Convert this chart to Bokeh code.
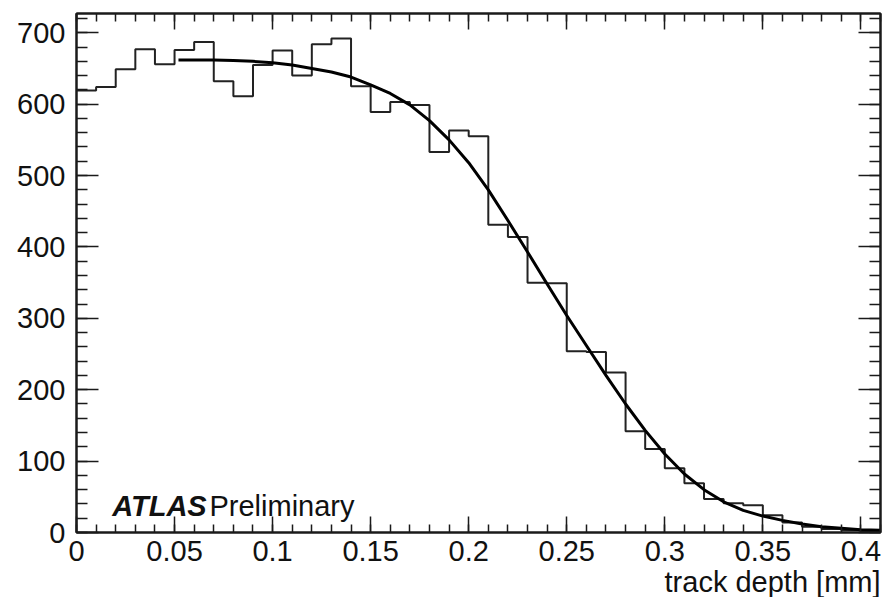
from bokeh.plotting import figure
from bokeh.models import LinearAxis, FixedTicker, Range1d, Label, Title
from bokeh.embed import file_html
from bokeh.resources import INLINE

# ---- data ----
bin_width = 0.01
bin_start = 0.0
counts = [619, 624, 649, 677, 656, 676, 687, 632, 611, 655,
          675, 640, 684, 692, 625, 589, 603, 599, 533, 563,
          555, 431, 414, 350, 349, 254, 253, 224, 142, 117,
          90, 69, 47, 41, 38, 24, 14, 8, 5, 3, 2]

fit_x = [0.052, 0.06, 0.07, 0.08, 0.09, 0.10, 0.11, 0.12, 0.13, 0.14,
         0.15, 0.16, 0.17, 0.18, 0.19, 0.20, 0.21, 0.22, 0.23, 0.24,
         0.25, 0.26, 0.27, 0.28, 0.29, 0.30, 0.31, 0.32, 0.33, 0.34,
         0.35, 0.36, 0.37, 0.38, 0.39, 0.40, 0.41]
fit_y = [662, 662, 662, 661, 660, 658, 655, 650, 645, 638,
         627, 615, 599, 577, 550, 518, 480, 437, 393, 348,
         304, 262, 220, 180, 143, 110, 82, 60, 43, 31,
         23, 17, 12, 8, 6, 4, 3]

x_tick_values = [0, 0.05, 0.1, 0.15, 0.2, 0.25, 0.3, 0.35, 0.4]
x_tick_labels = ["0", "0.05", "0.1", "0.15", "0.2", "0.25", "0.3", "0.35", "0.4"]
x_minor_step = 0.01
y_tick_values = [0, 100, 200, 300, 400, 500, 600, 700]
y_tick_labels = ["0", "100", "200", "300", "400", "500", "600", "700"]
y_minor_step = 20

x_label = "track depth [mm]"
atlas_text = "ATLAS"
prelim_text = "Preliminary"

# ---- build ----
FONT = "Liberation Sans"
FS = "29px"
INK = "#111111"
LINE = "#1a1a1a"

edges = [bin_start + i * bin_width for i in range(len(counts) + 1)]
step_y = counts + [counts[-1]]

p = figure(width=882, height=597,
           x_range=Range1d(0, 0.41), y_range=Range1d(0, 727),
           output_backend="svg", toolbar_location=None,
           min_border_left=76, min_border_right=2, min_border_top=13,
           min_border_bottom=0)
p.grid.visible = False
p.outline_line_color = LINE
p.outline_line_width = 2
p.background_fill_color = "white"
p.border_fill_color = "white"

x_minor = [round(i * x_minor_step, 4) for i in range(0, 42)]
y_minor = [i * y_minor_step for i in range(0, 37)]


def style(ax, major, minor):
    ax.major_tick_in = major
    ax.major_tick_out = 0
    ax.minor_tick_in = minor
    ax.minor_tick_out = 0
    ax.axis_line_color = LINE
    ax.axis_line_width = 2
    ax.major_tick_line_color = LINE
    ax.minor_tick_line_color = LINE
    ax.major_tick_line_width = 1.5
    ax.minor_tick_line_width = 1.5
    ax.major_label_text_font = FONT
    ax.major_label_text_color = INK
    ax.major_label_text_font_size = FS


xa = p.xaxis[0]
xa.ticker = FixedTicker(ticks=x_tick_values, minor_ticks=x_minor)
xa.major_label_overrides = {v: s for v, s in zip(x_tick_values, x_tick_labels)}
style(xa, 16, 8)
xa.major_label_standoff = 8

ya = p.yaxis[0]
ya.ticker = FixedTicker(ticks=y_tick_values, minor_ticks=y_minor)
ya.major_label_overrides = {v: s for v, s in zip(y_tick_values, y_tick_labels)}
style(ya, 22, 11)
ya.major_label_standoff = 11


def mirror_axis(positions, length, side, draw_line):
    # label-free axis: only "minor" ticks, so no tick texts are created
    ax = LinearAxis(ticker=FixedTicker(ticks=[], minor_ticks=positions))
    ax.major_tick_in = 0
    ax.major_tick_out = 0
    ax.minor_tick_in = length
    ax.minor_tick_out = 0
    ax.minor_tick_line_color = LINE
    ax.minor_tick_line_width = 1.5
    ax.major_label_standoff = 0
    ax.axis_line_color = LINE if draw_line else None
    ax.axis_line_width = 2
    p.add_layout(ax, side)


mirror_axis(x_tick_values, 16, "above", True)
mirror_axis(x_minor, 8, "above", False)
mirror_axis(y_tick_values, 22, "right", True)
mirror_axis(y_minor, 11, "right", False)

p.add_layout(Title(text=x_label, align="right", text_font=FONT,
                   text_font_size=FS, text_font_style="normal",
                   text_color=INK, standoff=0, offset=0), "below")

p.step(edges, step_y, mode="after", line_color="#222222", line_width=2)
p.line(fit_x, fit_y, line_color="black", line_width=3)

p.add_layout(Label(x=0.0182, y=37, text=atlas_text, text_font=FONT,
                   text_font_size=FS, text_font_style="bold italic",
                   text_color=INK, text_baseline="alphabetic"))
p.add_layout(Label(x=0.0678, y=37, text=prelim_text, text_font=FONT,
                   text_font_size=FS, text_font_style="normal",
                   text_color=INK, text_baseline="alphabetic"))

open("out.html", "w").write(file_html(p, INLINE))
